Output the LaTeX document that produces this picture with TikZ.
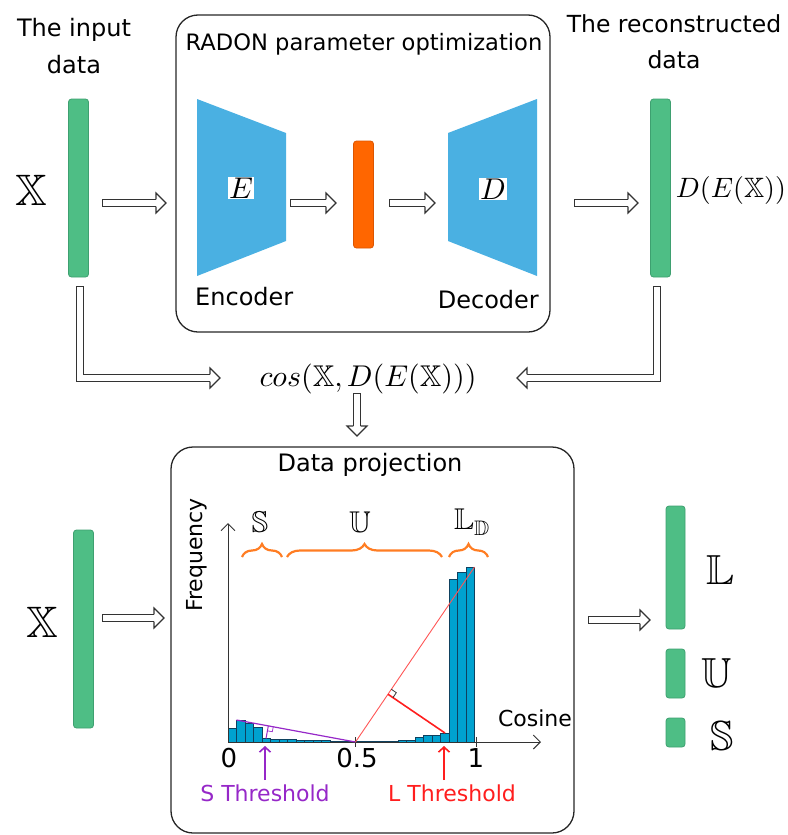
\documentclass[tikz,border=0pt]{standalone}
\usepackage{amsmath}
\usepackage[no-math]{fontspec}
\setmainfont{DejaVu Sans}
\usetikzlibrary{arrows.meta,calc,decorations.pathreplacing}

% scalable Computer Modern math letters and parentheses
\DeclareFontShape{OML}{cmm}{m}{it}{<-> cmmi10}{}
\DeclareFontShape{OT1}{cmr}{m}{n}{<-> cmr10}{}
% scalable blackboard-bold letters
\DeclareFontFamily{U}{dsbb}{}
\DeclareFontShape{U}{dsbb}{m}{n}{<-> msbm10}{}
\DeclareSymbolFont{dsbbsym}{U}{dsbb}{m}{n}
\DeclareSymbolFontAlphabet{\bb}{dsbbsym}

\newcommand\sz[2]{\fontsize{#1}{#2}\selectfont}

\definecolor{barGreen}{RGB}{78,190,133}
\definecolor{barEdge}{RGB}{62,160,112}
\definecolor{netBlue}{RGB}{74,176,226}
\definecolor{latentOrange}{RGB}{255,102,0}
\definecolor{latentEdge}{RGB}{220,85,0}
\definecolor{braceOrange}{RGB}{255,125,35}
\definecolor{histBlue}{RGB}{0,162,208}
\definecolor{histEdge}{RGB}{15,65,95}
\definecolor{thrPurple}{RGB}{150,40,200}
\definecolor{thrRed}{RGB}{255,30,30}

% hollow block-arrow head, tip at #1, pointing in direction #2
\newcommand\hollowhead[2]{%
  \filldraw[hollowtip, shift={(#1)}, rotate=#2]
    (-10,3.55) -- (-10,10) -- (0,0) -- (-10,-10) -- (-10,-3.55);}
% straight hollow block arrow from #1 to #2
\newcommand\blockarrow[3]{%
  \draw[shaft] (#1) -- ($(#2)!10pt!(#1)$);
  \hollowhead{#2}{#3}}

\begin{document}
\begin{tikzpicture}[x=1pt,y=-1pt,
  vecbar/.style={draw=barEdge, line width=0.8pt, fill=barGreen,
    rounded corners=3pt, inner sep=0pt, minimum width=20pt},
  panel/.style={draw=black!85, line width=1.3pt, rounded corners=22pt},
  shaft/.style={draw=black!80, line width=1.1pt, double=white,
    double distance=6pt, line cap=rect, line join=miter},
  hollowtip/.style={draw=black!80, line width=1.1pt, fill=white, line join=miter},
  lbl/.style={font=\sz{24}{37}, align=center, inner sep=0pt},
  small/.style={font=\sz{22}{26}, inner sep=0pt},
  histbar/.style={draw=histEdge, line width=0.6pt, fill=histBlue},
  axisline/.style={draw=black!80, line width=1pt},
  bracestyle/.style={draw=braceOrange, line width=2.2pt, decorate,
    decoration={brace, amplitude=13pt}},
]
\useasboundingbox (0,0) rectangle (787,835);

% ---------------- autoencoder stage ----------------
\draw[panel] (176,15) rectangle (550,332);
\node[lbl, font=\sz{22.6}{30}] (radon) at (364,44) {RADON parameter optimization};

\node[lbl] (inlbl) at (74,46) {The input\\data};
\node[lbl, font=\sz{23.5}{36}] (reclbl) at (674,42) {The reconstructed\\data};

\node[vecbar, minimum height=178pt] (xin) at (78.5,188) {};
\node[vecbar, minimum height=178pt] (xrec) at (660.5,188) {};
\node[font=\sz{44}{50}, inner sep=0pt] (xlab) at (31,190) {$\bb{X}$};
\node[font=\sz{28}{32}, inner sep=0pt] (dexlab) at (731,190) {$D(E(\bb{X}))$};

% encoder / latent code / decoder
\fill[netBlue] (197,99) -- (286,133) -- (286,241) -- (197,276) -- cycle;
\fill[netBlue] (448,133) -- (537,99) -- (537,276) -- (448,241) -- cycle;
\node[fill=white, inner sep=1pt, font=\sz{30}{34}] (enc) at (241,188) {$E$};
\node[fill=white, inner sep=1pt, font=\sz{30}{34}] (dec) at (493,189) {$D$};
\node[vecbar, fill=latentOrange, draw=latentEdge, minimum height=107pt] (z) at (363.5,194.5) {};
\node[lbl, anchor=west] (enctxt) at (195,297) {Encoder};
\node[lbl, anchor=east] (dectxt) at (539,300) {Decoder};

\coordinate (a1s) at (106,203); \coordinate (a1e) at (166,203);
\coordinate (a2s) at (294,203); \coordinate (a2e) at (336,203);
\coordinate (a3s) at (393,203); \coordinate (a3e) at (435,203);
\coordinate (a4s) at (578,203); \coordinate (a4e) at (638,203);
\blockarrow{a1s}{a1e}{0}
\blockarrow{a2s}{a2e}{0}
\blockarrow{a3s}{a3e}{0}
\blockarrow{a4s}{a4e}{0}

% cosine similarity
\node[font=\sz{30}{34}, inner sep=0pt] (cosf) at (368,379) {$cos(\bb{X},D(E(\bb{X})))$};

\coordinate (l1a) at (80,290); \coordinate (l1b) at (80,378); \coordinate (l1c) at (220,378);
\draw[shaft] (l1a) -- (l1b) -- ($(l1c)!10pt!(l1b)$);
\hollowhead{l1c}{0}
\coordinate (l2a) at (657,290); \coordinate (l2b) at (657,378); \coordinate (l2c) at (517,378);
\draw[shaft] (l2a) -- (l2b) -- ($(l2c)!10pt!(l2b)$);
\hollowhead{l2c}{180}
\coordinate (d1s) at (357,397); \coordinate (d1e) at (357,436);
\blockarrow{d1s}{d1e}{-90}

% ---------------- projection stage ----------------
\draw[panel] (171,447) rectangle (574,833);
\node[lbl] (projt) at (370,465) {Data projection};

\node[vecbar, minimum height=198pt] (xin2) at (83.5,629) {};
\node[font=\sz{44}{50}, inner sep=0pt] (xlab2) at (42,622) {$\bb{X}$};
\coordinate (a5s) at (106,618); \coordinate (a5e) at (164,618);
\blockarrow{a5s}{a5e}{0}
\coordinate (a6s) at (592,620); \coordinate (a6e) at (650,620);
\blockarrow{a6s}{a6e}{0}

\node[vecbar, minimum width=19pt, minimum height=123pt] (lset) at (675.5,567.5) {};
\node[vecbar, minimum width=19pt, minimum height=49pt] (uset) at (675.5,673.5) {};
\node[vecbar, minimum width=19pt, minimum height=29pt] (sset) at (675.5,732.5) {};
\node[font=\sz{42}{46}, inner sep=0pt] (llab) at (720,570) {$\bb{L}$};
\node[font=\sz{42}{46}, inner sep=0pt] (ulab) at (717,673) {$\bb{U}$};
\node[font=\sz{42}{46}, inner sep=0pt] (slab) at (722,736) {$\bb{S}$};

% histogram of cosine values
\foreach \l/\t in {228/728, 236.5/720, 245/723, 253.5/727, 262/738.5, 270.5/739,
  279/739, 287.5/739.5, 296/740, 304.5/740, 313/740.5, 321.5/740.5, 330/741,
  338.5/741, 347/741, 355.5/741.2, 364/741.2, 372.5/741.2, 381/741.2, 389.5/741,
  398/740.5, 406.5/740, 415/737.5, 423.5/735.5, 432/735, 440.5/733,
  449/579, 457.5/572, 466/567}
  \draw[histbar] (\l,\t) rectangle (\l+8.5,742);

\coordinate (org) at (228,742);
\coordinate (ytop) at (228,523);
\coordinate (xend) at (541,742);
\coordinate (half) at (355.5,742);
\draw[axisline, -{Straight Barb[length=7pt,width=14pt]}] (org) -- (ytop);
\draw[axisline, -{Straight Barb[length=7pt,width=14pt]}] (org) -- (xend);
\draw[axisline] (355.5,737) -- (355.5,747);
\draw[axisline] (476,737) -- (476,747);
\node[font=\sz{26}{30}, inner sep=0pt] (t0) at (229,758) {0};
\node[font=\sz{26}{30}, inner sep=0pt] (t05) at (357,758) {0.5};
\node[font=\sz{26}{30}, inner sep=0pt] (t1) at (476,758) {1};
\node[small, rotate=90] (freq) at (197,555) {Frequency};
\node[small] (cosl) at (535,718) {Cosine};

% knee constructions for the two thresholds
\coordinate (spk) at (236.5,720);
\coordinate (lpk) at (474.5,567);
\coordinate (sth) at (266,738.5);
\coordinate (lth) at (445,733);
\coordinate (sft) at ($(spk)!(sth)!(half)$);
\coordinate (lft) at ($(half)!(lth)!(lpk)$);

\draw[thrPurple, line width=1.2pt] (spk) -- (half);
\draw[thrPurple, line width=1pt] (sth) -- (sft);
\coordinate (sa) at ($(sft)!5pt!(half)$);
\coordinate (sb) at ($(sft)!5pt!(sth)$);
\draw[thrPurple, line width=0.7pt] (sa) -- ($(sa)+(sb)-(sft)$) -- (sb);

\draw[thrRed!75, line width=0.9pt] (half) -- (lpk);
\draw[thrRed, line width=1.6pt] (lth) -- (lft);
\coordinate (la) at ($(lft)!6pt!(lpk)$);
\coordinate (lb) at ($(lft)!6pt!(lth)$);
\draw[black!80, line width=0.8pt] (la) -- ($(la)+(lb)-(lft)$) -- (lb);

\coordinate (sas) at (265,780); \coordinate (sae) at (265,746);
\coordinate (las) at (444,780); \coordinate (lae) at (444,746);
\draw[thrPurple, line width=1.6pt, -{Straight Barb[length=5pt,width=11pt]}] (sas) -- (sae);
\draw[thrRed, line width=1.6pt, -{Straight Barb[length=5pt,width=11pt]}] (las) -- (lae);
\node[small, text=thrPurple] (sthr) at (265,793) {S Threshold};
\node[small, text=thrRed] (lthr) at (452,793) {L Threshold};

% set braces over the histogram
\draw[bracestyle] (242,557) -- (282,557);
\draw[bracestyle] (287,557) -- (442,557);
\draw[bracestyle] (449,557) -- (488,557);
\node[font=\sz{30}{34}, inner sep=0pt] (sbr) at (260,522) {$\bb{S}$};
\node[font=\sz{30}{34}, inner sep=0pt] (ubr) at (360,522) {$\bb{U}$};
\node[font=\sz{30}{34}, inner sep=0pt] (lbr) at (472,522) {$\bb{L}_{\bb{D}}$};
\end{tikzpicture}
\end{document}
